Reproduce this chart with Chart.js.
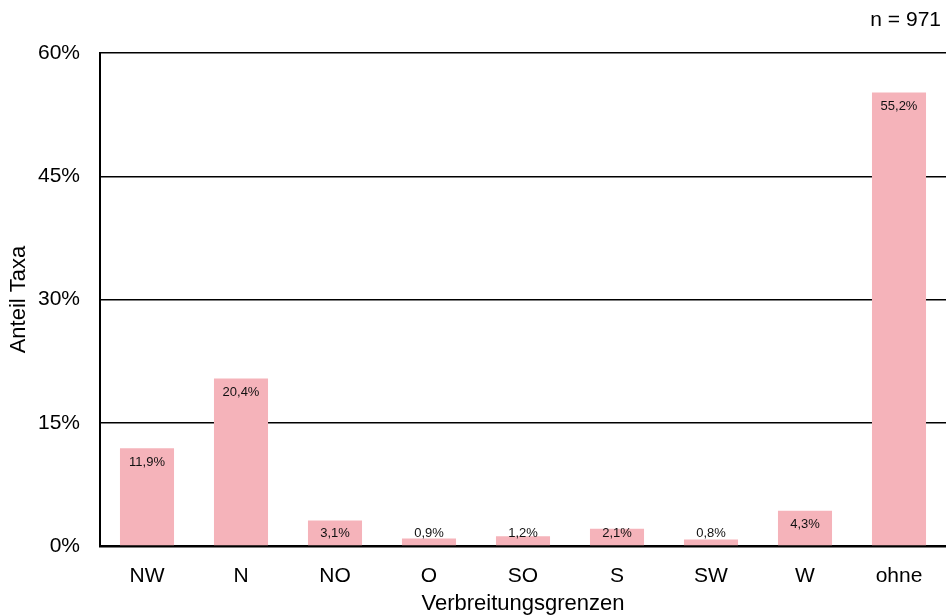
<!DOCTYPE html>
<html>
<head>
<meta charset="utf-8">
<script src="https://cdn.jsdelivr.net/npm/chart.js@4.4.0/dist/chart.umd.min.js"></script>
<style>
  html, body { margin: 0; padding: 0; background: #fff; }
  #wrap { width: 946px; height: 615px; position: relative; }
</style>
</head>
<body>
<div id="wrap"><canvas id="grenzenChart"></canvas></div>
<script>
// Daten
const categories = ['NW', 'N', 'NO', 'O', 'SO', 'S', 'SW', 'W', 'ohne'];
const shares = [11.9, 20.4, 3.1, 0.9, 1.2, 2.1, 0.8, 4.3, 55.2];
const yTicks = [0, 15, 30, 45, 60];
const sampleSize = 'n = 971';

const fontFamily = '"Liberation Sans", Arial, Helvetica, sans-serif';

// value labels: inside near top, or just above the base for tiny bars
const barLabels = {
    id: 'barLabels',
    afterDatasetsDraw(chart) {
        const ctx = chart.ctx;
        const meta = chart.getDatasetMeta(0);
        const base = chart.scales.y.getPixelForValue(0);
        ctx.save();
        ctx.font = '13px ' + fontFamily;
        ctx.fillStyle = '#111';
        ctx.textAlign = 'center';
        ctx.textBaseline = 'middle';
        meta.data.forEach(function(bar, i) {
            const y = Math.min(bar.y + 14, base - 13);
            ctx.fillText(shares[i].toFixed(1).replace('.', ',') + '%', bar.x, y);
        });
        ctx.restore();
    }
};

// sample size note, top right above the plot
const sampleNote = {
    id: 'sampleNote',
    afterDraw(chart) {
        const ctx = chart.ctx;
        ctx.save();
        ctx.font = '21px ' + fontFamily;
        ctx.fillStyle = '#000';
        ctx.textAlign = 'right';
        ctx.textBaseline = 'middle';
        ctx.fillText(sampleSize, chart.chartArea.right - 5, 20);
        ctx.restore();
    }
};

const ctx = document.getElementById('grenzenChart').getContext('2d');
new Chart(ctx, {
    type: 'bar',
    data: {
        labels: categories,
        datasets: [{
            data: shares,
            backgroundColor: '#f5b3ba',
            borderWidth: 0,
            categoryPercentage: 0.575,
            barPercentage: 1.0
        }]
    },
    options: {
        responsive: true,
        maintainAspectRatio: false,
        animation: false,
        layout: { padding: { top: 53, right: 0, left: 0, bottom: 0 } },
        plugins: {
            legend: { display: false },
            tooltip: { enabled: false },
            title: { display: false }
        },
        scales: {
            y: {
                min: 0,
                max: 60,
                afterBuildTicks: function(scale) {
                    scale.ticks = yTicks.map(function(v) { return { value: v }; });
                },
                afterFit: function(scale) { scale.width = 100; },
                ticks: {
                    callback: function(v) { return v + '%'; },
                    color: '#000',
                    padding: 20,
                    font: { family: fontFamily, size: 21 }
                },
                grid: {
                    color: '#000',
                    lineWidth: 1.4,
                    drawTicks: false
                },
                border: { color: '#000', width: 2 },
                title: {
                    display: true,
                    text: 'Anteil Taxa',
                    color: '#000',
                    font: { family: fontFamily, size: 22 },
                    padding: { top: 6, bottom: 0 }
                }
            },
            x: {
                grid: { display: false, drawTicks: false },
                border: { color: '#000', width: 2.5 },
                afterFit: function(scale) { scale.height = 69; },
                ticks: {
                    color: '#000',
                    padding: 18,
                    font: { family: fontFamily, size: 21 }
                },
                title: {
                    display: true,
                    text: 'Verbreitungsgrenzen',
                    color: '#000',
                    font: { family: fontFamily, size: 22, lineHeight: 1.0 },
                    padding: { top: 0, bottom: 0 }
                }
            }
        }
    },
    plugins: [barLabels, sampleNote]
});
</script>
</body>
</html>
